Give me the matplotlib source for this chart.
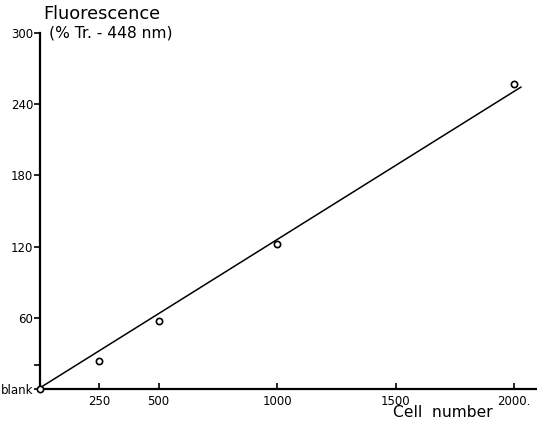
import numpy as np
import matplotlib.pyplot as plt

# Fluoreszenz gegen Zellzahl (blank = 0 Zellen)
cells = [0, 250, 500, 1000, 2000]
fluor = [0, 23.5, 57, 122, 257]

# Ausgleichsgerade (Endpunkte)
fit_x = [0, 2030]
fit_y = [1, 254.5]

yticks = [0, 20, 60, 120, 180, 240, 300]
ylabels = ['blank', '', '60', '120', '180', '240', '300']
xticks = [250, 500, 1000, 1500, 2000]
xlabels = ['250', '500', '1000', '1500', '2000.']

fig = plt.figure(figsize=(5.37, 4.23), dpi=100)
ax = fig.add_axes([0.0745, 0.0804, 0.9255, 0.8416])

ax.plot(fit_x, fit_y, color='black', lw=1.1, solid_capstyle='round')
ax.plot(cells, fluor, 'o', mfc='white', mec='black', ms=4.5, mew=1.2, clip_on=False, zorder=3)

ax.set_xlim(0, 2097)
ax.set_ylim(0, 300)

for side in ['top', 'right']:
    ax.spines[side].set_visible(False)
for side in ['left', 'bottom']:
    ax.spines[side].set_linewidth(1.6)

ax.set_yticks(yticks)
ax.set_yticklabels(ylabels)
ax.set_xticks(xticks)
ax.set_xticklabels(xlabels)
ax.tick_params(axis='y', direction='out', length=4, width=1.2, labelsize=8.5, pad=1)
ax.tick_params(axis='x', direction='in', length=4, width=1.2, labelsize=8.5, pad=4)

fig.text(0.08, 0.968, 'Fluorescence', fontsize=12.8, ha='left', va='center')
fig.text(0.091, 0.922, '(% Tr. - 448 nm)', fontsize=11.2, ha='left', va='center')
fig.text(0.732, 0.024, 'Cell  number', fontsize=11.2, ha='left', va='center')

plt.savefig('out.png', dpi=100)
